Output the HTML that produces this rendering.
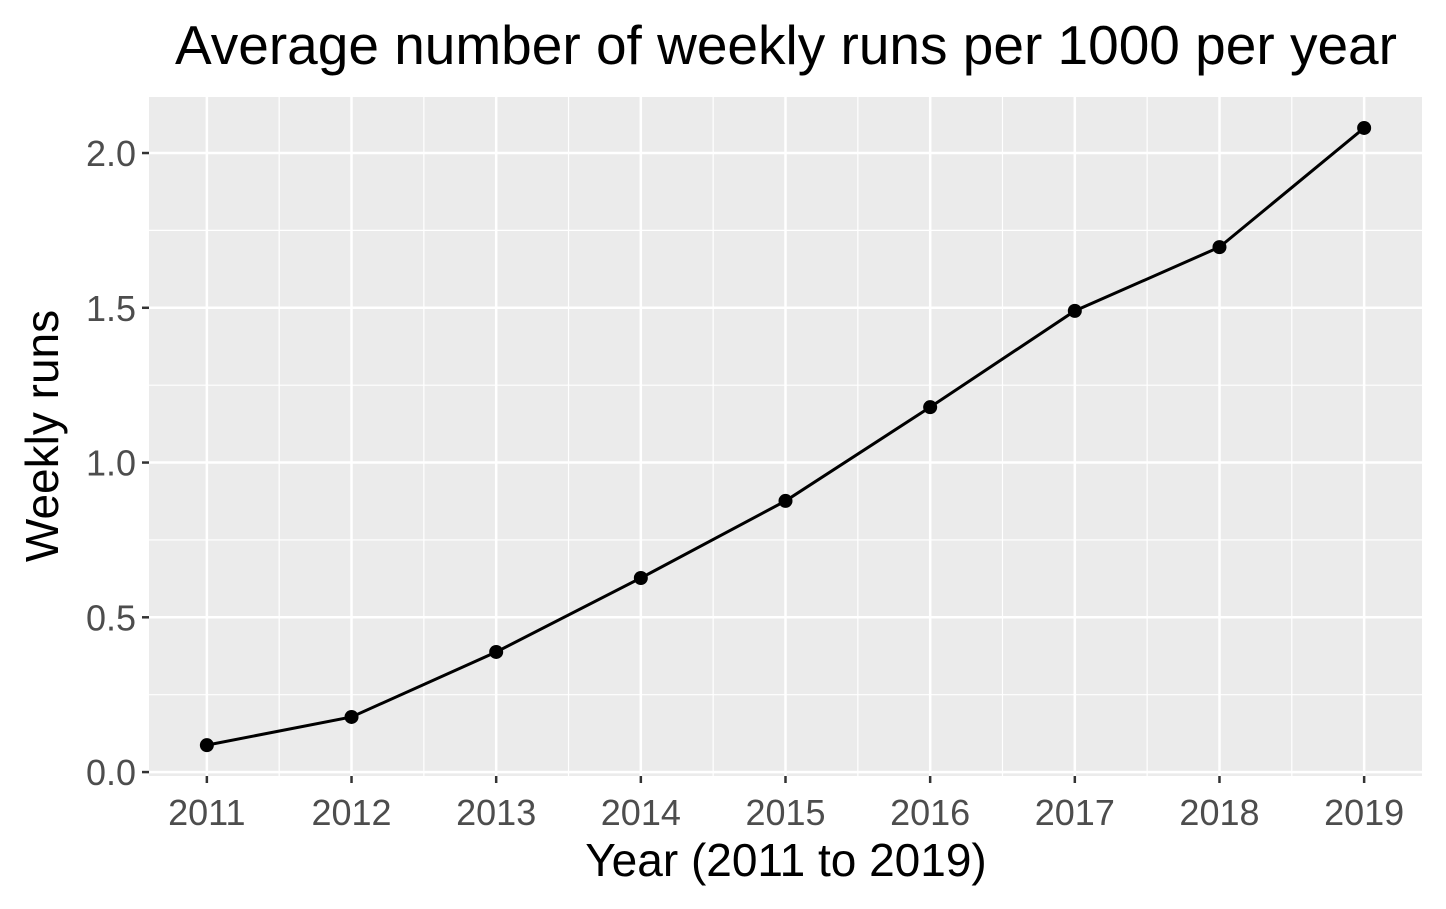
<!DOCTYPE html>
<html><head><meta charset="utf-8"><style>
body{margin:0;background:#fff;}
svg{display:block;font-family:"Liberation Sans",Arial,sans-serif;}
</style></head><body>
<svg id="chart" width="1446" height="909"></svg>
<script>
const years=[2011,2012,2013,2014,2015,2016,2017,2018,2019];
const runs=[0.087,0.178,0.388,0.627,0.876,1.179,1.49,1.696,2.081];
const yTicks=[0,0.5,1.0,1.5,2.0];
const yTickLabels=["0.0","0.5","1.0","1.5","2.0"];
const NS="http://www.w3.org/2000/svg";
const svg=document.getElementById('chart');
const L=149,R=1422,T=97,B=776;
const xMin=2010.6,xMax=2019.4,yMin=-0.0127,yMax=2.181;
const xs=v=>L+(v-xMin)/(xMax-xMin)*(R-L);
const ys=v=>B-(v-yMin)/(yMax-yMin)*(B-T);
function mk(tag,attrs,txt){const e=document.createElementNS(NS,tag);for(const k in attrs)e.setAttribute(k,attrs[k]);if(txt!==undefined)e.textContent=txt;svg.appendChild(e);return e;}
const panel=mk('rect',{x:L,y:T,width:R-L,height:B-T,fill:'#ebebeb'});


for(let i=0;i<yTicks.length-1;i++){const v=(yTicks[i]+yTicks[i+1])/2;const g=mk('line',{x1:L,x2:R,y1:ys(v),y2:ys(v),stroke:'#fff','stroke-width':1.2});

}
for(let i=0;i<years.length-1;i++){const v=(years[i]+years[i+1])/2;const g=mk('line',{x1:xs(v),x2:xs(v),y1:T,y2:B,stroke:'#fff','stroke-width':1.2});

}
yTicks.forEach((v,i)=>{const g=mk('line',{x1:L,x2:R,y1:ys(v),y2:ys(v),stroke:'#fff','stroke-width':2.5});


const t=mk('line',{x1:L-7,x2:L,y1:ys(v),y2:ys(v),stroke:'#333','stroke-width':2.5});


const lb=mk('text',{x:L-13,y:ys(v)+13,'text-anchor':'end','font-size':36,fill:'#4d4d4d'},yTickLabels[i]);

});
years.forEach(v=>{const g=mk('line',{x1:xs(v),x2:xs(v),y1:T,y2:B,stroke:'#fff','stroke-width':2.5});


const t=mk('line',{x1:xs(v),x2:xs(v),y1:B,y2:B+7,stroke:'#333','stroke-width':2.5});


const lb=mk('text',{x:xs(v),y:B+49,'text-anchor':'middle','font-size':36,fill:'#4d4d4d'},String(v));

});
const line=mk('polyline',{points:years.map((y,i)=>xs(y)+','+ys(runs[i])).join(' '),fill:'none',stroke:'#000','stroke-width':3});


years.forEach((y,i)=>{const c=mk('circle',{cx:xs(y),cy:ys(runs[i]),r:7,fill:'#000'});

});
const title=mk('text',{x:786,y:64,'text-anchor':'middle','font-size':55,fill:'#000'},'Average number of weekly runs per 1000 per year');


const xt=mk('text',{x:786,y:876,'text-anchor':'middle','font-size':46,fill:'#000'},'Year (2011 to 2019)');


const yt=mk('text',{x:0,y:0,'text-anchor':'middle','font-size':46,fill:'#000',transform:'translate(58,436) rotate(-90)'},'Weekly runs');


</script>
</body></html>
